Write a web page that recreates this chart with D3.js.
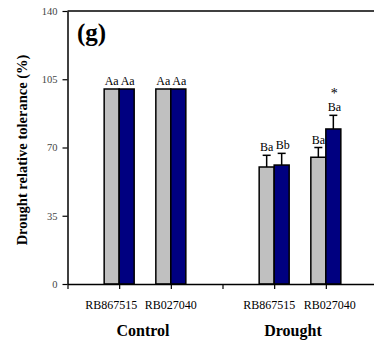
<!DOCTYPE html>
<html>
<head>
<meta charset="utf-8">
<script src="https://cdn.jsdelivr.net/npm/d3@7"></script>
<style>
  body { margin: 0; background: #fff; }
  svg text { font-family: "Liberation Serif", "Times New Roman", serif; }
</style>
</head>
<body>
<div class="chart"></div>
<script>
// categories on a 0..6 position axis (3 is the empty gap)
var cultivars = ["RB867515", "RB027040", "RB867515", "RB027040"];
var positions = [1, 2, 4, 5];
var groups = ["Control", "Drought"];
var groupPos = [1.5, 4.5];

// two series per cultivar: grey then blue
var greyValues = [100, 100, 60, 65];
var blueValues = [100, 100, 61, 79.5];
var greyErr = [0, 0, 6, 5];
var blueErr = [0, 0, 6, 7];
var greyLetters = ["Aa", "Aa", "Ba", "Ba"];
var blueLetters = ["Aa", "Aa", "Bb", "Ba"];
var blueStars = ["", "", "", "*"];

var yTicks = [0, 35, 70, 105, 140];

var width = 374, height = 344;
var svg = d3.select(".chart").append("svg").attr("width", width).attr("height", height);

var x = d3.scaleLinear().domain([0, 6]).range([67.5, 377.5]);
var y = d3.scaleLinear().domain([0, 140]).range([284, 11]);
var barW = 15;

// frame lines
svg.append("line").attr("x1", x(0)).attr("x2", width).attr("y1", y(140)).attr("y2", y(140))
  .attr("stroke", "#000").attr("stroke-width", 1.5);

var yAxis = svg.append("g").attr("transform", "translate(" + x(0) + ",0)")
  .call(d3.axisLeft(y).tickValues(yTicks).tickSize(5).tickSizeOuter(0).tickPadding(5));
yAxis.select(".domain").attr("stroke-width", 1.5);
yAxis.selectAll(".tick line").attr("stroke-width", 1.2);
yAxis.selectAll(".tick text").attr("font-family", "Arial, 'Liberation Sans', sans-serif")
  .attr("font-size", 10.5).attr("fill", "#444");

// bars
var data = positions.map(function(p, i) {
  return {p: p, grey: greyValues[i], blue: blueValues[i], ge: greyErr[i], be: blueErr[i],
          gl: greyLetters[i], bl: blueLetters[i], star: blueStars[i]};
});

var bars = svg.append("g");
bars.selectAll(".grey").data(data).enter().append("rect")
  .attr("x", function(d) { return x(d.p) - barW; })
  .attr("y", function(d) { return y(d.grey); })
  .attr("width", barW)
  .attr("height", function(d) { return y(0) - y(d.grey); })
  .attr("fill", "#c0c0c0").attr("stroke", "#000").attr("stroke-width", 1.5);
bars.selectAll(".blue").data(data).enter().append("rect")
  .attr("x", function(d) { return x(d.p); })
  .attr("y", function(d) { return y(d.blue); })
  .attr("width", barW)
  .attr("height", function(d) { return y(0) - y(d.blue); })
  .attr("fill", "#000080").attr("stroke", "#000").attr("stroke-width", 1.5);

// error bars (upper only)
function errBars(key, errKey, dx) {
  var sel = data.filter(function(d) { return d[errKey] > 0; });
  var g = svg.append("g").attr("stroke", "#000").attr("stroke-width", 1.5);
  g.selectAll("line.v").data(sel).enter().append("line")
    .attr("x1", function(d) { return x(d.p) + dx; }).attr("x2", function(d) { return x(d.p) + dx; })
    .attr("y1", function(d) { return y(d[key]); }).attr("y2", function(d) { return y(d[key] + d[errKey]); });
  g.selectAll("line.c").data(sel).enter().append("line")
    .attr("x1", function(d) { return x(d.p) + dx - 4; }).attr("x2", function(d) { return x(d.p) + dx + 4; })
    .attr("y1", function(d) { return y(d[key] + d[errKey]); }).attr("y2", function(d) { return y(d[key] + d[errKey]); });
}
errBars("grey", "ge", -barW / 2);
errBars("blue", "be", barW / 2);

// letters
svg.selectAll(".gl").data(data).enter().append("text")
  .attr("x", function(d) { return x(d.p) - barW / 2; })
  .attr("y", function(d) { return y(d.grey + d.ge) - 4; })
  .attr("text-anchor", "middle").attr("font-size", 12).text(function(d) { return d.gl; });
svg.selectAll(".bl").data(data).enter().append("text")
  .attr("x", function(d) { return x(d.p) + barW / 2 + 1; })
  .attr("y", function(d) { return y(d.blue + d.be) - 4; })
  .attr("text-anchor", "middle").attr("font-size", 12).text(function(d) { return d.bl; });
svg.selectAll(".st").data(data.filter(function(d) { return d.star; })).enter().append("text")
  .attr("x", function(d) { return x(d.p) + barW / 2 + 1; })
  .attr("y", function(d) { return y(d.blue + d.be) - 17; })
  .attr("text-anchor", "middle").attr("font-size", 14).text(function(d) { return d.star; });

// x axis
var xAxis = svg.append("g").attr("transform", "translate(0," + y(0) + ")")
  .call(d3.axisBottom(x).tickValues([0, 1, 2, 3, 4, 5, 6]).tickSize(5).tickSizeOuter(0).tickFormat(""));
xAxis.select(".domain").attr("stroke-width", 1.5);
xAxis.selectAll(".tick line").attr("stroke-width", 1.2);

var labelShift = [-8, 0, -5, 4];
svg.append("g").selectAll("text").data(cultivars).enter().append("text")
  .attr("x", function(d, i) { return x(positions[i]) + labelShift[i]; })
  .attr("y", 309).attr("text-anchor", "middle").attr("font-size", 12)
  .text(function(d) { return d; });

svg.append("g").selectAll("text").data(groups).enter().append("text")
  .attr("x", function(d, i) { return x(groupPos[i]) - 1 - (i === 0 ? 1 : 6); })
  .attr("y", 336).attr("text-anchor", "middle").attr("font-size", 16).attr("font-weight", "bold")
  .text(function(d) { return d; });

// y title
svg.append("text").attr("transform", "translate(27,150) rotate(-90)")
  .attr("text-anchor", "middle").attr("font-size", 14.5).attr("font-weight", "bold")
  .text("Drought relative tolerance (%)");

// panel letter
svg.append("text").attr("x", 77).attr("y", 41).attr("font-size", 25).attr("font-weight", "bold").text("(g)");
</script>
</body>
</html>
